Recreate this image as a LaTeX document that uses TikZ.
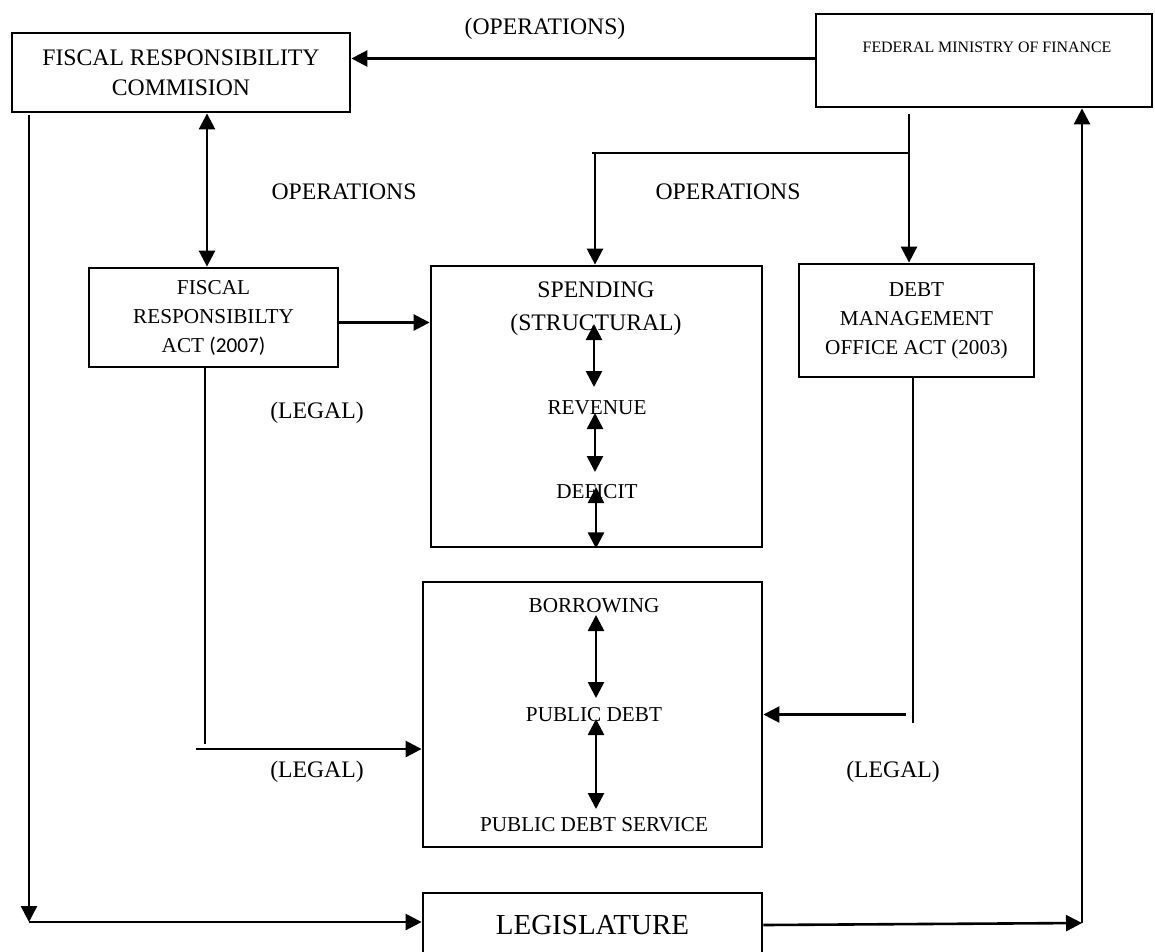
\documentclass[tikz,border=0pt]{standalone}
\usepackage{fontspec}
\setmainfont{Liberation Serif}
\newfontfamily\calib{Carlito}
\usetikzlibrary{arrows.meta,calc}
\begin{document}
\begin{tikzpicture}[x=1pt,y=-1pt,
  box/.style={draw, line width=2.8pt, rectangle, inner sep=0pt, align=center},
  ln/.style={line width=2.6pt},
  arr/.style={line width=2.6pt, -{Triangle[length=16pt,width=16pt]}},
  dbl/.style={line width=2.6pt, {Triangle[length=16pt,width=16pt]}-{Triangle[length=16pt,width=16pt]}},
  fbig/.style={font=\fontsize{23.7}{30}\selectfont},
  fmid/.style={font=\fontsize{21.2}{29}\selectfont},
  lbl/.style={fbig, inner sep=0pt}]
\useasboundingbox (0,0) rectangle (1155,951);
\clip (0,0) rectangle (1155,951);

% boxes
\node[box, fbig, minimum width=338pt, minimum height=79pt] (frc) at (181,72.5) {FISCAL RESPONSIBILITY\\COMMISION};
\node[box, minimum width=336pt, minimum height=93pt] (fmf) at (984,60.5) {};
\node[font=\fontsize{15.9}{19}\selectfont, inner sep=0pt] (fmft) at (987,47) {FEDERAL MINISTRY OF FINANCE};
\node[box, fmid, minimum width=249pt, minimum height=99pt] (fra) at (213.5,317.5) {FISCAL\\RESPONSIBILTY\\ACT {\calib (2007)}};
\node[box, minimum width=331pt, minimum height=281pt] (sp) at (596.5,406.5) {};
\node[box, fmid, minimum width=235pt, minimum height=113pt] (dmo) at (916.5,320.5) {DEBT\\MANAGEMENT\\OFFICE ACT (2003)};
\node[box, minimum width=339pt, minimum height=265pt] (bx2) at (592.5,714.5) {};
\node[box, font=\fontsize{29}{34}\selectfont, minimum width=339pt, minimum height=64pt] (leg) at (592.5,925) {LEGISLATURE};

% inner texts
\node[font=\fontsize{23.7}{33}\selectfont, inner sep=0pt, align=center] (spt) at (596,309) {SPENDING\\(STRUCTURAL)};
\node[fmid, inner sep=0pt] (rev) at (597,408) {REVENUE};
\node[fmid, inner sep=0pt] (def) at (597,492) {DEFICIT};
\node[fmid, inner sep=0pt] (bor) at (594,606) {BORROWING};
\node[fmid, inner sep=0pt] (pd) at (594,715) {PUBLIC DEBT};
\node[fmid, inner sep=0pt] (pds) at (594,825) {PUBLIC DEBT SERVICE};

% labels
\node[lbl] (op0) at (545,29) {(OPERATIONS)};
\node[lbl] (op1) at (344,192) {OPERATIONS};
\node[lbl] (op2) at (728,192) {OPERATIONS};
\node[lbl] (lg1) at (317,413) {(LEGAL)};
\node[lbl] (lg2) at (317,772) {(LEGAL)};
\node[lbl] (lg3) at (893,772) {(LEGAL)};

% coordinates
\coordinate (fmfd) at (909,114);
\coordinate (jr) at (909,153);
\coordinate (jl) at (592,153);
\coordinate (jd) at (595,153);
\coordinate (lt) at (29,115);
\coordinate (lb) at (29,922);
\coordinate (rc) at (1082,923);
\coordinate (fl) at (205,744);
\coordinate (fh) at (196,749);
\coordinate (dl) at (913,723);
\coordinate (dh) at (906,714.5);
\coordinate (s1) at (594,324);
\coordinate (s2) at (594,387);
\coordinate (s3) at (595,413);
\coordinate (s4) at (595,472);
\coordinate (s5) at (596,487);
\coordinate (b1) at (596,615);
\coordinate (b2) at (596,698);
\coordinate (b3) at (596,719);
\coordinate (b4) at (596,809);

% connectors
\draw[arr] ([yshift=2pt]fmf.west) -- ([yshift=2pt]fmf.west -| frc.east);
\draw[arr] (fmfd) -- (fmfd |- dmo.north);
\draw[ln] (jl) -- (jr);
\draw[arr] (jd) -- (jd |- sp.north);
\draw[dbl] ([xshift=26pt]frc.south) -- ([xshift=26pt]frc.south |- fra.north);
\draw[arr] ([yshift=-5pt]fra.east) -- ([yshift=-5pt]fra.east -| sp.west);
\draw[ln] (fl |- fra.south) -- (fl);
\draw[arr] (fh) -- (fh -| bx2.west);
\draw[ln] (dl |- dmo.south) -- (dl);
\draw[arr] (dh) -- (bx2.east);
\draw[arr] (lt) -- (lb);
\draw[arr] (lb) -- (lb -| leg.west);
\draw[arr] (leg.east) -- (rc);
\draw[arr] (rc) -- (rc |- fmf.south);

\draw[dbl] (s1) -- (s2);
\draw[dbl] (s3) -- (s4);
\draw[dbl] (s5) -- (s5 |- sp.south);
\draw[dbl] (b1) -- (b2);
\draw[dbl] (b3) -- (b4);
\end{tikzpicture}
\end{document}
